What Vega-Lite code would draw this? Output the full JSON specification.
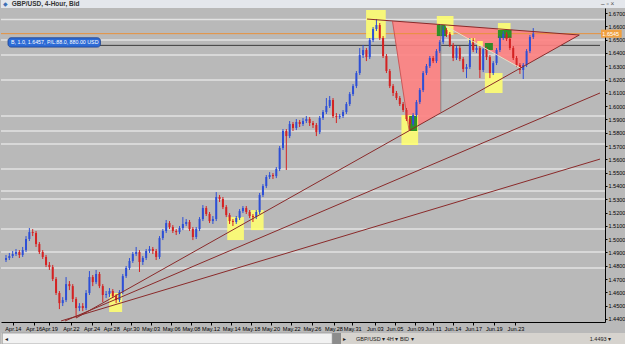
{
"$schema":"https://vega.github.io/schema/vega-lite/v6.json",
"padding":0,
"autosize":{"type":"pad"},
"background":"#b9b9b9",
"spacing":0,
"config":{"font":"Liberation Sans","view":{"stroke":null},"axis":{"grid":false,"title":null,"labelFont":"Liberation Sans","labelFontSize":5.6,"labelColor":"#000000","domainColor":"#000000","tickColor":"#000000","labelOverlap":false,"labelFlush":false,"labelBound":false}},
"datasets":{
"candles":[
{"i":0,"o":1.4843,"h":1.4881,"l":1.4828,"c":1.4858},
{"i":1,"o":1.4858,"h":1.4896,"l":1.4843,"c":1.4873},
{"i":2,"o":1.4873,"h":1.4911,"l":1.4858,"c":1.4888},
{"i":3,"o":1.4888,"h":1.4926,"l":1.4873,"c":1.4903},
{"i":4,"o":1.4903,"h":1.4918,"l":1.4858,"c":1.4881},
{"i":5,"o":1.4881,"h":1.4941,"l":1.4866,"c":1.4918},
{"i":6,"o":1.4918,"h":1.5023,"l":1.4903,"c":1.5001},
{"i":7,"o":1.5001,"h":1.5084,"l":1.4986,"c":1.5053},
{"i":8,"o":1.5053,"h":1.5076,"l":1.5023,"c":1.5046},
{"i":9,"o":1.5046,"h":1.5061,"l":1.4941,"c":1.4963},
{"i":10,"o":1.4963,"h":1.4978,"l":1.4888,"c":1.4903},
{"i":11,"o":1.4903,"h":1.4918,"l":1.4851,"c":1.4866},
{"i":12,"o":1.4866,"h":1.4881,"l":1.4790,"c":1.4806},
{"i":13,"o":1.4806,"h":1.4828,"l":1.4768,"c":1.4790},
{"i":14,"o":1.4790,"h":1.4806,"l":1.4685,"c":1.4700},
{"i":15,"o":1.4700,"h":1.4715,"l":1.4580,"c":1.4595},
{"i":16,"o":1.4595,"h":1.4610,"l":1.4474,"c":1.4519},
{"i":17,"o":1.4519,"h":1.4564,"l":1.4497,"c":1.4542},
{"i":18,"o":1.4542,"h":1.4715,"l":1.4527,"c":1.4662},
{"i":19,"o":1.4662,"h":1.4685,"l":1.4617,"c":1.4647},
{"i":20,"o":1.4647,"h":1.4662,"l":1.4527,"c":1.4550},
{"i":21,"o":1.4550,"h":1.4564,"l":1.4407,"c":1.4482},
{"i":22,"o":1.4482,"h":1.4519,"l":1.4459,"c":1.4497},
{"i":23,"o":1.4497,"h":1.4519,"l":1.4459,"c":1.4482},
{"i":24,"o":1.4482,"h":1.4617,"l":1.4467,"c":1.4595},
{"i":25,"o":1.4595,"h":1.4760,"l":1.4580,"c":1.4715},
{"i":26,"o":1.4715,"h":1.4730,"l":1.4647,"c":1.4677},
{"i":27,"o":1.4677,"h":1.4768,"l":1.4662,"c":1.4738},
{"i":28,"o":1.4738,"h":1.4753,"l":1.4632,"c":1.4647},
{"i":29,"o":1.4647,"h":1.4662,"l":1.4527,"c":1.4580},
{"i":30,"o":1.4580,"h":1.4610,"l":1.4557,"c":1.4587},
{"i":31,"o":1.4587,"h":1.4632,"l":1.4564,"c":1.4610},
{"i":32,"o":1.4610,"h":1.4625,"l":1.4557,"c":1.4572},
{"i":33,"o":1.4572,"h":1.4587,"l":1.4519,"c":1.4542},
{"i":34,"o":1.4542,"h":1.4617,"l":1.4527,"c":1.4602},
{"i":35,"o":1.4602,"h":1.4738,"l":1.4587,"c":1.4722},
{"i":36,"o":1.4722,"h":1.4798,"l":1.4708,"c":1.4783},
{"i":37,"o":1.4783,"h":1.4858,"l":1.4768,"c":1.4836},
{"i":38,"o":1.4836,"h":1.4903,"l":1.4821,"c":1.4888},
{"i":39,"o":1.4888,"h":1.4941,"l":1.4873,"c":1.4903},
{"i":40,"o":1.4903,"h":1.4918,"l":1.4753,"c":1.4828},
{"i":41,"o":1.4828,"h":1.4873,"l":1.4806,"c":1.4858},
{"i":42,"o":1.4858,"h":1.4926,"l":1.4843,"c":1.4911},
{"i":43,"o":1.4911,"h":1.4948,"l":1.4896,"c":1.4926},
{"i":44,"o":1.4926,"h":1.4941,"l":1.4888,"c":1.4911},
{"i":45,"o":1.4911,"h":1.4926,"l":1.4843,"c":1.4866},
{"i":46,"o":1.4866,"h":1.5023,"l":1.4851,"c":1.5008},
{"i":47,"o":1.5008,"h":1.5076,"l":1.4993,"c":1.5061},
{"i":48,"o":1.5061,"h":1.5144,"l":1.5046,"c":1.5121},
{"i":49,"o":1.5121,"h":1.5136,"l":1.5076,"c":1.5091},
{"i":50,"o":1.5091,"h":1.5106,"l":1.5046,"c":1.5061},
{"i":51,"o":1.5061,"h":1.5076,"l":1.5031,"c":1.5053},
{"i":52,"o":1.5053,"h":1.5099,"l":1.5038,"c":1.5084},
{"i":53,"o":1.5084,"h":1.5166,"l":1.5068,"c":1.5114},
{"i":54,"o":1.5114,"h":1.5151,"l":1.5099,"c":1.5129},
{"i":55,"o":1.5129,"h":1.5144,"l":1.5061,"c":1.5076},
{"i":56,"o":1.5076,"h":1.5091,"l":1.4993,"c":1.5016},
{"i":57,"o":1.5016,"h":1.5091,"l":1.5001,"c":1.5076},
{"i":58,"o":1.5076,"h":1.5166,"l":1.5061,"c":1.5151},
{"i":59,"o":1.5151,"h":1.5256,"l":1.5136,"c":1.5234},
{"i":60,"o":1.5234,"h":1.5249,"l":1.5174,"c":1.5189},
{"i":61,"o":1.5189,"h":1.5204,"l":1.5121,"c":1.5136},
{"i":62,"o":1.5136,"h":1.5174,"l":1.5114,"c":1.5151},
{"i":63,"o":1.5151,"h":1.5354,"l":1.5136,"c":1.5317},
{"i":64,"o":1.5317,"h":1.5332,"l":1.5279,"c":1.5302},
{"i":65,"o":1.5302,"h":1.5317,"l":1.5226,"c":1.5241},
{"i":66,"o":1.5241,"h":1.5256,"l":1.5166,"c":1.5181},
{"i":67,"o":1.5181,"h":1.5196,"l":1.5114,"c":1.5136},
{"i":68,"o":1.5136,"h":1.5151,"l":1.5099,"c":1.5129},
{"i":69,"o":1.5129,"h":1.5174,"l":1.5114,"c":1.5159},
{"i":70,"o":1.5159,"h":1.5226,"l":1.5144,"c":1.5211},
{"i":71,"o":1.5211,"h":1.5249,"l":1.5196,"c":1.5234},
{"i":72,"o":1.5234,"h":1.5249,"l":1.5189,"c":1.5204},
{"i":73,"o":1.5204,"h":1.5219,"l":1.5159,"c":1.5174},
{"i":74,"o":1.5174,"h":1.5189,"l":1.5129,"c":1.5166},
{"i":75,"o":1.5166,"h":1.5219,"l":1.5151,"c":1.5204},
{"i":76,"o":1.5204,"h":1.5347,"l":1.5189,"c":1.5332},
{"i":77,"o":1.5332,"h":1.5414,"l":1.5317,"c":1.5399},
{"i":78,"o":1.5399,"h":1.5482,"l":1.5384,"c":1.5467},
{"i":79,"o":1.5467,"h":1.5504,"l":1.5452,"c":1.5482},
{"i":80,"o":1.5482,"h":1.5497,"l":1.5452,"c":1.5474},
{"i":81,"o":1.5474,"h":1.5542,"l":1.5459,"c":1.5527},
{"i":82,"o":1.5527,"h":1.5700,"l":1.5512,"c":1.5685},
{"i":83,"o":1.5685,"h":1.5828,"l":1.5670,"c":1.5813},
{"i":84,"o":1.5813,"h":1.5828,"l":1.5520,"c":1.5775},
{"i":85,"o":1.5775,"h":1.5888,"l":1.5760,"c":1.5866},
{"i":86,"o":1.5866,"h":1.5881,"l":1.5813,"c":1.5836},
{"i":87,"o":1.5836,"h":1.5903,"l":1.5820,"c":1.5881},
{"i":88,"o":1.5881,"h":1.5896,"l":1.5843,"c":1.5866},
{"i":89,"o":1.5866,"h":1.5911,"l":1.5851,"c":1.5888},
{"i":90,"o":1.5888,"h":1.5926,"l":1.5873,"c":1.5903},
{"i":91,"o":1.5903,"h":1.5918,"l":1.5851,"c":1.5873},
{"i":92,"o":1.5873,"h":1.5888,"l":1.5836,"c":1.5858},
{"i":93,"o":1.5858,"h":1.5873,"l":1.5775,"c":1.5805},
{"i":94,"o":1.5805,"h":1.5926,"l":1.5790,"c":1.5911},
{"i":95,"o":1.5911,"h":1.5971,"l":1.5896,"c":1.5956},
{"i":96,"o":1.5956,"h":1.6061,"l":1.5941,"c":1.6001},
{"i":97,"o":1.6001,"h":1.6076,"l":1.5986,"c":1.6046},
{"i":98,"o":1.6046,"h":1.6061,"l":1.5911,"c":1.5926},
{"i":99,"o":1.5926,"h":1.5948,"l":1.5873,"c":1.5918},
{"i":100,"o":1.5918,"h":1.5941,"l":1.5903,"c":1.5926},
{"i":101,"o":1.5926,"h":1.5971,"l":1.5911,"c":1.5956},
{"i":102,"o":1.5956,"h":1.6031,"l":1.5941,"c":1.6016},
{"i":103,"o":1.6016,"h":1.6106,"l":1.6001,"c":1.6091},
{"i":104,"o":1.6091,"h":1.6166,"l":1.6076,"c":1.6151},
{"i":105,"o":1.6151,"h":1.6264,"l":1.6136,"c":1.6249},
{"i":106,"o":1.6249,"h":1.6437,"l":1.6234,"c":1.6384},
{"i":107,"o":1.6384,"h":1.6460,"l":1.6362,"c":1.6422},
{"i":108,"o":1.6422,"h":1.6437,"l":1.6339,"c":1.6369},
{"i":109,"o":1.6369,"h":1.6512,"l":1.6354,"c":1.6497},
{"i":110,"o":1.6497,"h":1.6595,"l":1.6482,"c":1.6580},
{"i":111,"o":1.6580,"h":1.6655,"l":1.6565,"c":1.6610},
{"i":112,"o":1.6610,"h":1.6625,"l":1.6497,"c":1.6512},
{"i":113,"o":1.6512,"h":1.6527,"l":1.6362,"c":1.6377},
{"i":114,"o":1.6377,"h":1.6392,"l":1.6249,"c":1.6264},
{"i":115,"o":1.6264,"h":1.6279,"l":1.6136,"c":1.6151},
{"i":116,"o":1.6151,"h":1.6166,"l":1.6076,"c":1.6099},
{"i":117,"o":1.6099,"h":1.6114,"l":1.6046,"c":1.6061},
{"i":118,"o":1.6061,"h":1.6076,"l":1.6001,"c":1.6016},
{"i":119,"o":1.6016,"h":1.6031,"l":1.5956,"c":1.5971},
{"i":120,"o":1.5971,"h":1.5986,"l":1.5888,"c":1.5903},
{"i":121,"o":1.5903,"h":1.5918,"l":1.5813,"c":1.5866},
{"i":122,"o":1.5866,"h":1.5948,"l":1.5851,"c":1.5933},
{"i":123,"o":1.5933,"h":1.6046,"l":1.5918,"c":1.6031},
{"i":124,"o":1.6031,"h":1.6136,"l":1.6016,"c":1.6121},
{"i":125,"o":1.6121,"h":1.6264,"l":1.6106,"c":1.6249},
{"i":126,"o":1.6249,"h":1.6317,"l":1.6234,"c":1.6302},
{"i":127,"o":1.6302,"h":1.6377,"l":1.6287,"c":1.6362},
{"i":128,"o":1.6362,"h":1.6377,"l":1.6324,"c":1.6339},
{"i":129,"o":1.6339,"h":1.6429,"l":1.6324,"c":1.6414},
{"i":130,"o":1.6414,"h":1.6497,"l":1.6399,"c":1.6482},
{"i":131,"o":1.6482,"h":1.6602,"l":1.6467,"c":1.6572},
{"i":132,"o":1.6572,"h":1.6587,"l":1.6520,"c":1.6542},
{"i":133,"o":1.6542,"h":1.6557,"l":1.6445,"c":1.6460},
{"i":134,"o":1.6460,"h":1.6475,"l":1.6339,"c":1.6362},
{"i":135,"o":1.6362,"h":1.6452,"l":1.6347,"c":1.6437},
{"i":136,"o":1.6437,"h":1.6452,"l":1.6339,"c":1.6354},
{"i":137,"o":1.6354,"h":1.6369,"l":1.6256,"c":1.6279},
{"i":138,"o":1.6279,"h":1.6317,"l":1.6211,"c":1.6294},
{"i":139,"o":1.6294,"h":1.6512,"l":1.6279,"c":1.6497},
{"i":140,"o":1.6497,"h":1.6512,"l":1.6407,"c":1.6422},
{"i":141,"o":1.6422,"h":1.6452,"l":1.6399,"c":1.6437},
{"i":142,"o":1.6437,"h":1.6452,"l":1.6211,"c":1.6272},
{"i":143,"o":1.6272,"h":1.6444,"l":1.6256,"c":1.6429},
{"i":144,"o":1.6429,"h":1.6444,"l":1.6347,"c":1.6369},
{"i":145,"o":1.6369,"h":1.6384,"l":1.6211,"c":1.6249},
{"i":146,"o":1.6249,"h":1.6339,"l":1.6234,"c":1.6324},
{"i":147,"o":1.6324,"h":1.6437,"l":1.6309,"c":1.6422},
{"i":148,"o":1.6422,"h":1.6527,"l":1.6407,"c":1.6512},
{"i":149,"o":1.6512,"h":1.6565,"l":1.6497,"c":1.6542},
{"i":150,"o":1.6542,"h":1.6557,"l":1.6490,"c":1.6505},
{"i":151,"o":1.6505,"h":1.6520,"l":1.6422,"c":1.6437},
{"i":152,"o":1.6437,"h":1.6452,"l":1.6347,"c":1.6362},
{"i":153,"o":1.6362,"h":1.6377,"l":1.6294,"c":1.6309},
{"i":154,"o":1.6309,"h":1.6324,"l":1.6242,"c":1.6272},
{"i":155,"o":1.6272,"h":1.6324,"l":1.6204,"c":1.6309},
{"i":156,"o":1.6309,"h":1.6429,"l":1.6294,"c":1.6414},
{"i":157,"o":1.6414,"h":1.6535,"l":1.6399,"c":1.6520},
{"i":158,"o":1.6520,"h":1.6587,"l":1.6505,"c":1.6545}
],
"levels":[{"p":1.6651},{"p":1.6497},{"p":1.6384},{"p":1.6196},{"p":1.5926},{"p":1.5813},{"p":1.5715},{"p":1.5527},{"p":1.5362},{"p":1.5302},{"p":1.5076},{"p":1.4903},{"p":1.4783}],
"pink":[
{"poly":"A","i":115.8,"top":1.6641,"bot":1.6641},
{"poly":"A","i":120.8,"top":1.6631,"bot":1.5815},
{"poly":"A","i":130.3,"top":1.6616,"bot":1.5953},
{"poly":"B","i":130.3,"top":1.6616,"bot":1.6616},
{"poly":"B","i":154.1,"top":1.6568,"bot":1.6287},
{"poly":"B","i":171.8,"top":1.6535,"bot":1.6535}
],
"boxes":[
{"k":"y","i":107.9,"i2":113.8,"p":1.6723,"p2":1.6512},
{"k":"y","i":118.5,"i2":123.5,"p":1.5933,"p2":1.5708},
{"k":"y","i":129.1,"i2":134.1,"p":1.6678,"p2":1.6535},
{"k":"y","i":143.5,"i2":148.8,"p":1.6249,"p2":1.6099},
{"k":"y","i":147.4,"i2":151.2,"p":1.6625,"p2":1.6527},
{"k":"y","i":138.5,"i2":140.6,"p":1.6512,"p2":1.6475},
{"k":"y","i":141.2,"i2":142.9,"p":1.6490,"p2":1.6452},
{"k":"y","i":30.9,"i2":34.8,"p":1.4595,"p2":1.4452},
{"k":"y","i":66.3,"i2":71.3,"p":1.5166,"p2":1.4993},
{"k":"y","i":73.4,"i2":77.2,"p":1.5219,"p2":1.5068},
{"k":"g","i":120.8,"i2":123.2,"p":1.5926,"p2":1.5813},
{"k":"g","i":129.1,"i2":131.9,"p":1.6610,"p2":1.6527},
{"k":"g","i":147.4,"i2":151.5,"p":1.6572,"p2":1.6512},
{"k":"g","i":143.5,"i2":145.9,"p":1.6475,"p2":1.6422}
],
"lines":[
{"ln":"top","i":108.2,"p":1.6655},{"ln":"top","i":171.8,"p":1.6535},
{"ln":"a","i":21,"p":1.4407},{"ln":"a","i":171.8,"p":1.6535},
{"ln":"b","i":17.7,"p":1.4385},{"ln":"b","i":178,"p":1.6099},
{"ln":"c","i":16.5,"p":1.4385},{"ln":"c","i":178,"p":1.5602},
{"ln":"d","i":131.7,"p":1.6603},{"ln":"d","i":154.1,"p":1.6287},
{"ln":"e","i":115.8,"p":1.6641},{"ln":"e","i":120.8,"p":1.5815},
{"ln":"f","i":130.3,"p":1.6616},{"ln":"f","i":130.3,"p":1.5953}
],
"prices":[{"kind":"bid","p":1.6545,"t":"1.6545"},{"kind":"order","p":1.6457,"t":"B, 1.0, 1.6457, P/L:88.0, 880.00 USD"}]
},
"vconcat":[
{
"width":625,"height":8,
"view":{"fill":"#e4e7ec","stroke":null},
"data":{"values":[{}]},
"layer":[
{"mark":{"type":"text","align":"left","baseline":"middle","fontSize":6,"color":"#3d6fb6"},"encoding":{"x":{"datum":0.3,"type":"quantitative","scale":{"domain":[0,100]},"axis":null},"text":{"value":"◆"}}},
{"mark":{"type":"text","align":"left","baseline":"middle","fontSize":6.5,"fontWeight":"bold","color":"#333333"},"encoding":{"x":{"datum":1.7,"type":"quantitative","scale":{"domain":[0,100]},"axis":null},"text":{"value":"GBP/USD, 4-Hour, Bid"}}},
{"mark":{"type":"text","align":"left","baseline":"middle","fontSize":6.5,"color":"#555555"},"encoding":{"x":{"datum":96,"type":"quantitative","scale":{"domain":[0,100]},"axis":null},"text":{"value":"–  ▫  ×"}}}
]
},
{
"width":604,"height":314,
"view":{"fill":"#b9b9b9","stroke":null},
"resolve":{"axis":{"x":"independent","y":"independent"}},
"layer":[
{"data":{"name":"candles"},"mark":{"type":"rule","strokeWidth":1,"opacity":0},
 "encoding":{"x":{"field":"i","type":"quantitative","scale":{"domain":[0,178],"nice":false,"zero":false},
   "axis":{"orient":"bottom","values":[2.06,8.25,12.97,19.45,25.64,31.54,37.43,43.32,49.51,55.41,61.3,67.49,73.39,79.28,85.47,91.66,98.14,103.74,110.52,116.42,122.61,127.91,133.8,139.99,146.18,152.67],
   "labelExpr":"['Apr.14','Apr.16','Apr.19','Apr.22','Apr.24','Apr.28','Apr.30','May.03','May.06','May.08','May.12','May.14','May.18','May.20','May.22','May.26','May.28','May.31','Jun.03','Jun.05','Jun.09','Jun.11','Jun.14','Jun.17','Jun.19','Jun.23'][indexof([2.06,8.25,12.97,19.45,25.64,31.54,37.43,43.32,49.51,55.41,61.3,67.49,73.39,79.28,85.47,91.66,98.14,103.74,110.52,116.42,122.61,127.91,133.8,139.99,146.18,152.67], datum.value)]",
   "tickSize":3,"labelPadding":1,"labelFontSize":5.6,"labelFlush":false,"labelOverlap":false,"labelBound":false,"domainWidth":1}},
 "y":{"field":"l","type":"quantitative","scale":{"domain":[1.4377,1.6738],"nice":false,"zero":false},
   "axis":{"orient":"right","values":[1.44,1.45,1.46,1.47,1.48,1.49,1.5,1.51,1.52,1.53,1.54,1.55,1.56,1.57,1.58,1.59,1.6,1.61,1.62,1.63,1.64,1.65,1.66,1.67],"format":".4f","tickSize":2,"labelPadding":1,"labelFontSize":5.5,"labelFlush":false,"labelOverlap":false,"labelBound":false}},
 "y2":{"field":"h"}}},
{"data":{"name":"levels"},"mark":{"type":"rule","color":"#e3e3e3","strokeWidth":1.5},
 "encoding":{"y":{"field":"p","type":"quantitative","axis":null}}},
{"data":{"name":"prices"},"transform":[{"filter":"datum.kind=='order'"}],"mark":{"type":"rule","color":"#3a3a3a","strokeWidth":1},
 "encoding":{"x":{"datum":28,"type":"quantitative","axis":null},"x2":{"datum":178},
 "y":{"field":"p","type":"quantitative","axis":null}}},
{"data":{"name":"pink"},"mark":{"type":"area","color":"#ff8282","opacity":0.9,"interpolate":"linear"},
 "encoding":{"x":{"field":"i","type":"quantitative","axis":null},
 "y":{"field":"top","type":"quantitative","axis":null},"y2":{"field":"bot"},"detail":{"field":"poly"}}},
{"data":{"name":"prices"},"transform":[{"filter":"datum.kind=='bid'"}],"mark":{"type":"rule","color":"#e8913c","strokeWidth":1},
 "encoding":{"y":{"field":"p","type":"quantitative","axis":null}}},
{"data":{"name":"boxes"},"transform":[{"filter":"datum.k=='y'"}],"mark":{"type":"rect","color":"#ffff70","opacity":0.88},
 "encoding":{"x":{"field":"i","type":"quantitative","axis":null},"x2":{"field":"i2"},
 "y":{"field":"p","type":"quantitative","axis":null},"y2":{"field":"p2"}}},
{"data":{"name":"boxes"},"transform":[{"filter":"datum.k=='g'"}],"mark":{"type":"rect","color":"#1f8a1f","opacity":0.92},
 "encoding":{"x":{"field":"i","type":"quantitative","axis":null},"x2":{"field":"i2"},
 "y":{"field":"p","type":"quantitative","axis":null},"y2":{"field":"p2"}}},
{"data":{"name":"candles"},"mark":{"type":"rule","strokeWidth":1},
 "encoding":{"x":{"field":"i","type":"quantitative","axis":null},
 "y":{"field":"l","type":"quantitative","axis":null},"y2":{"field":"h"},
 "color":{"condition":{"test":"datum.c >= datum.o","value":"#2d4fd6"},"value":"#d42222"}}},
{"data":{"name":"candles"},"mark":{"type":"bar","size":2},
 "encoding":{"x":{"field":"i","type":"quantitative","axis":null},
 "y":{"field":"o","type":"quantitative","axis":null},"y2":{"field":"c"},
 "color":{"condition":{"test":"datum.c >= datum.o","value":"#2d4fd6"},"value":"#d42222"}}},
{"data":{"name":"lines"},"transform":[{"filter":"indexof(['top','a','b','c'], datum.ln) >= 0"}],"mark":{"type":"line","strokeWidth":1,"color":"#8a2a2a"},
 "encoding":{"x":{"field":"i","type":"quantitative","axis":null},"y":{"field":"p","type":"quantitative","axis":null},"detail":{"field":"ln"}}},
{"data":{"name":"lines"},"transform":[{"filter":"datum.ln=='d'"}],"mark":{"type":"line","strokeWidth":1,"color":"#e2e2c8"},
 "encoding":{"x":{"field":"i","type":"quantitative","axis":null},"y":{"field":"p","type":"quantitative","axis":null}}},
{"data":{"name":"lines"},"transform":[{"filter":"datum.ln=='e'"}],"mark":{"type":"line","strokeWidth":0.8,"color":"#c84646"},
 "encoding":{"x":{"field":"i","type":"quantitative","axis":null},"y":{"field":"p","type":"quantitative","axis":null}}},
{"data":{"name":"lines"},"transform":[{"filter":"datum.ln=='f'"}],"mark":{"type":"line","strokeWidth":0.8,"color":"#7c7c7c"},
 "encoding":{"x":{"field":"i","type":"quantitative","axis":null},"y":{"field":"p","type":"quantitative","axis":null}}},
{"data":{"name":"prices"},"transform":[{"filter":"datum.kind=='order'"}],"mark":{"type":"rect","color":"#2d6bd6","stroke":"#1b3f8c","strokeWidth":0.8,"cornerRadius":3},
 "encoding":{"x":{"datum":0.6,"type":"quantitative","axis":null},"x2":{"datum":28.3},
 "y":{"datum":1.6514,"type":"quantitative","axis":null},"y2":{"datum":1.6444}}},
{"data":{"name":"prices"},"transform":[{"filter":"datum.kind=='order'"}],"mark":{"type":"text","color":"#ffffff","fontSize":5.3,"align":"left","baseline":"middle"},
 "encoding":{"x":{"datum":1.5,"type":"quantitative","axis":null},
 "y":{"datum":1.6479,"type":"quantitative","axis":null},"text":{"field":"t"}}},
{"data":{"name":"prices"},"transform":[{"filter":"datum.kind=='bid'"}],"mark":{"type":"rect","color":"#f0a040"},
 "encoding":{"x":{"datum":178.3,"type":"quantitative","axis":null},"x2":{"datum":184.5},
 "y":{"datum":1.6575,"type":"quantitative","axis":null},"y2":{"datum":1.6515}}},
{"data":{"name":"prices"},"transform":[{"filter":"datum.kind=='bid'"}],"mark":{"type":"text","color":"#ffffff","fontSize":5.5,"align":"left","baseline":"middle"},
 "encoding":{"x":{"datum":178.7,"type":"quantitative","axis":null},
 "y":{"field":"p","type":"quantitative","axis":null},"text":{"field":"t"}}}
]
},
{
"width":625,"height":11,
"view":{"fill":"#d6d3ce","stroke":null},
"data":{"values":[{}]},
"layer":[
{"mark":{"type":"rect","color":"#f2f2f2","stroke":"#9a9a9a","strokeWidth":0.8},"encoding":{"x":{"datum":0.2,"type":"quantitative","scale":{"domain":[0,100]},"axis":null},"x2":{"datum":53}}},
{"mark":{"type":"rect","color":"#8c8c8c"},"encoding":{"x":{"datum":53,"type":"quantitative","scale":{"domain":[0,100]},"axis":null},"x2":{"datum":54.4}}},
{"mark":{"type":"text","align":"left","baseline":"middle","fontSize":6,"color":"#222222"},"encoding":{"x":{"datum":0.6,"type":"quantitative","scale":{"domain":[0,100]},"axis":null},"text":{"value":"◂"}}},
{"mark":{"type":"text","align":"left","baseline":"middle","fontSize":6,"color":"#222222"},"encoding":{"x":{"datum":54.7,"type":"quantitative","scale":{"domain":[0,100]},"axis":null},"text":{"value":"▸"}}},
{"mark":{"type":"text","align":"left","baseline":"middle","fontSize":5.5,"color":"#222222"},"encoding":{"x":{"datum":56.8,"type":"quantitative","scale":{"domain":[0,100]},"axis":null},"text":{"value":"GBP/USD ▾   4H ▾   BID ▾"}}},
{"mark":{"type":"text","align":"left","baseline":"middle","fontSize":5.5,"color":"#222222"},"encoding":{"x":{"datum":94.2,"type":"quantitative","scale":{"domain":[0,100]},"axis":null},"text":{"value":"1.4493 ▾"}}}
]
}
]
}
